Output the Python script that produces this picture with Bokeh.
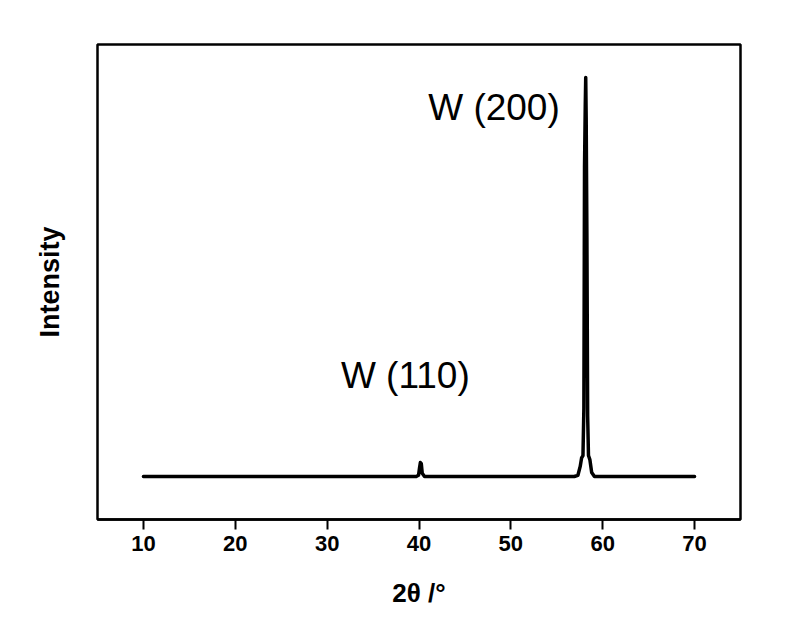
from bokeh.plotting import figure
from bokeh.models import Range1d, ColumnDataSource
from bokeh.core.properties import value
from bokeh.embed import file_html
from bokeh.resources import INLINE

# 2-theta (degrees) and intensity (arbitrary units)
two_theta = [10.0, 20.0, 30.0, 39.7, 39.95, 40.05, 40.15, 40.25, 40.35, 40.6,
             50.0, 56.9, 57.3, 57.55, 57.7, 57.85, 57.95, 58.02, 58.1, 58.15,
             58.2, 58.28, 58.36, 58.45, 58.6, 58.8, 59.1, 65.0, 70.0]
intensity = [100, 100, 100, 100, 130, 300, 447, 420, 180, 100,
             100, 100, 130, 350, 560, 620, 1800, 7800, 9300, 10000,
             9000, 6000, 1600, 620, 520, 200, 100, 100, 100]

label_text = ["W (110)", "W (200)"]
label_x = [31.5, 41.0]
label_y = [2606, 9256]

x_ticks = [10, 20, 30, 40, 50, 60, 70]

p = figure(output_backend="svg", toolbar_location=None,
           frame_width=643, frame_height=475,
           min_border_left=97, min_border_right=40,
           min_border_top=44, min_border_bottom=81,
           x_range=Range1d(5, 75), y_range=Range1d(-967, 10819))

p.background_fill_color = "white"
p.border_fill_color = "white"
p.xgrid.visible = False
p.ygrid.visible = False
p.outline_line_color = "black"
p.outline_line_width = 2.5

src = ColumnDataSource(dict(x=two_theta, y=intensity))
p.line("x", "y", source=src, line_color="black", line_width=3.5,
       line_join="round", line_cap="round")

lsrc = ColumnDataSource(dict(x=label_x, y=label_y, t=label_text))
p.text("x", "y", text="t", source=lsrc, text_font=value("Liberation Sans"),
       text_font_size="37px", text_color="black", text_baseline="alphabetic",
       text_align="left")

xa = p.xaxis[0]
xa.ticker = x_ticks
xa.axis_line_color = "black"
xa.axis_line_width = 2.5
xa.major_tick_line_color = "black"
xa.major_tick_line_width = 2
xa.major_tick_out = 10
xa.major_tick_in = 0
xa.minor_tick_line_color = None
xa.major_label_text_font = "Liberation Sans"
xa.major_label_text_font_style = "bold"
xa.major_label_text_font_size = "22px"
xa.major_label_text_color = "black"
xa.major_label_standoff = 6
xa.axis_label = "2θ /°"
xa.axis_label_text_font = "Liberation Sans"
xa.axis_label_text_font_style = "bold"
xa.axis_label_text_font_size = "26px"
xa.axis_label_text_color = "black"
xa.axis_label_standoff = 24

ya = p.yaxis[0]
ya.ticker = []
ya.axis_line_color = None
ya.major_tick_line_color = None
ya.minor_tick_line_color = None
ya.major_label_text_font_size = "0px"
ya.axis_label = "Intensity"
ya.axis_label_text_font = "Liberation Sans"
ya.axis_label_text_font_style = "bold"
ya.axis_label_text_font_size = "27px"
ya.axis_label_text_color = "black"
ya.axis_label_standoff = 33

open("out.html", "w").write(file_html(p, INLINE))
